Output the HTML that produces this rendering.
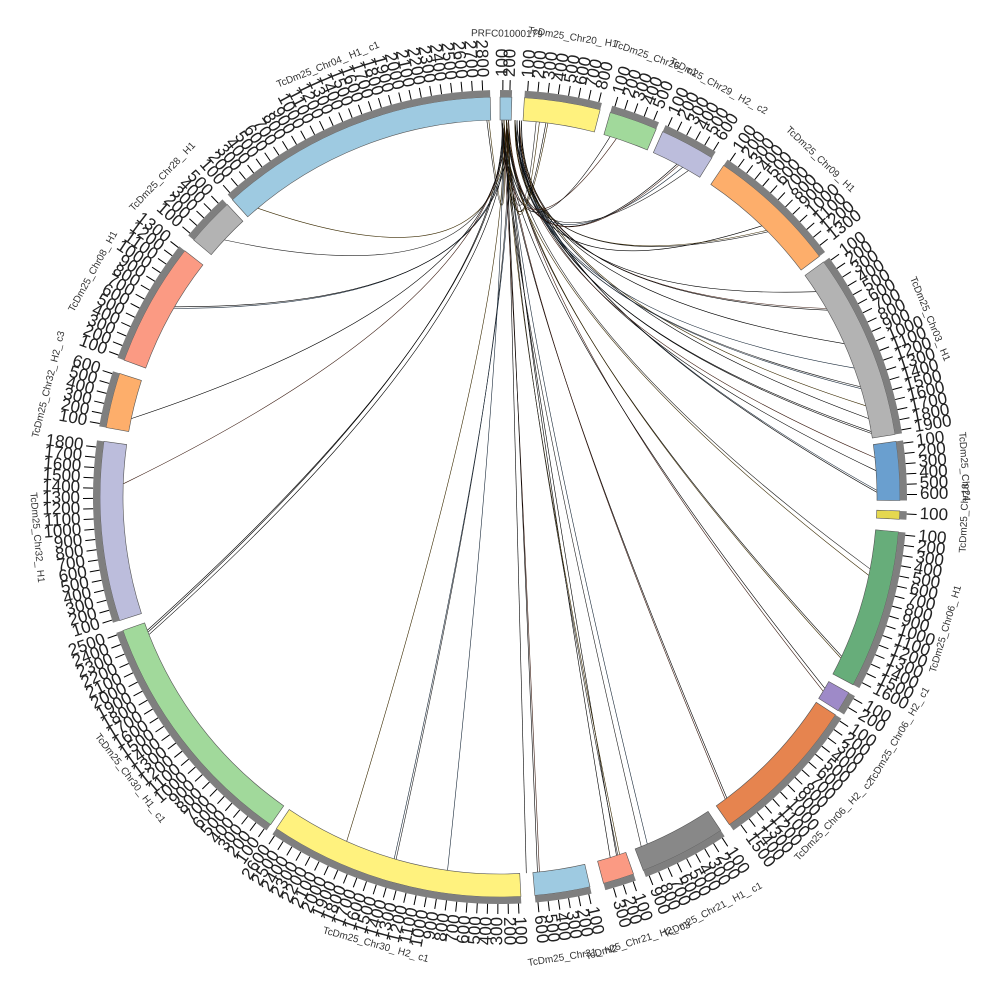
<!DOCTYPE html>
<html><head><meta charset="utf-8"><style>
html,body{margin:0;padding:0;background:#fff;width:1000px;height:1000px;overflow:hidden}
svg{display:block}
text{font-family:"Liberation Sans",sans-serif}
</style></head><body>
<svg id="s" width="1000" height="1000" viewBox="0 0 1000 1000" xmlns="http://www.w3.org/2000/svg"></svg>
<script>
const S=document.getElementById('s'),NS='http://www.w3.org/2000/svg';
const cx=500,cy=497,R0=377,R1=400;
function P(a,r){const t=a*Math.PI/180;return [cx+r*Math.sin(t),cy-r*Math.cos(t)];}
function el(n,at,txt){const e=document.createElementNS(NS,n);for(const k in at)e.setAttribute(k,at[k]);if(txt!==undefined)e.textContent=txt;S.appendChild(e);return e;}
function arc(a0,a1,r0,r1,fill,stroke){const p=P(a0,r1),q=P(a1,r1),u=P(a1,r0),v=P(a0,r0);const lg=(a1-a0)>180?1:0;
 el('path',{d:`M${p}A${r1},${r1} 0 ${lg} 1 ${q}L${u}A${r0},${r0} 0 ${lg} 0 ${v}Z`,fill:fill,stroke:stroke||'none','stroke-width':0.6});}
const segs=[
['PRFC01000179',0,1.7,'#9ecae1'],
['TcDm25_Chr20_H1',3.5,14.5,'#fff27e'],
['TcDm25_Chr26_c1',16,23,'#a1d99b'],
['TcDm25_Chr29_H2_c2',24,32,'#bcbddc'],
['TcDm25_Chr09_H1',34,53,'#fdae6b'],
['TcDm25_Chr03_H1',54,81,'#b3b3b3'],
['TcDm25_Chr24',82,90.5,'#6a9fcf'],
['TcDm25_Chr18',92,93.2,'#e5d84f'],
['TcDm25_Chr06_H1',95,118,'#67ad7a'],
['TcDm25_Chr06_H2_c1',119.3,122.3,'#9e8ac8'],
['TcDm25_Chr06_H2_c2',123,145,'#e6844f'],
['TcDm25_Chr21_H1_c1',146.5,159,'#888888'],
['TcDm25_Chr21_H2_c3',160.5,165,'#fb9a83'],
['TcDm25_Chr31_H2',167,175,'#9ecae1'],
['TcDm25_Chr30_H2_c1',177,214,'#fff27e'],
['TcDm25_Chr30_H1_c1',215,250.5,'#a1d99b'],
['TcDm25_Chr32_H1',252,278,'#bcbddc'],
['TcDm25_Chr32_H2_c3',280,288,'#fdae6b'],
['TcDm25_Chr08_H1',290,308,'#fb9a83'],
['TcDm25_Chr28_H1',310,317,'#b3b3b3'],
['TcDm25_Chr04_H1_c1',318,358.6,'#9ecae1']];
const tg=[358,320,313,300,282,272,249,248.6,204,196,188,176,174,163,162,161.5,158,157,143,121,120.5,115,102,101,89,86,84,80,78,76,73,70,66,60,57,44,45,30,29,28,18,17,7,6,5.5];
const cols=['#000','#3a2a00','#222','#1a2a3a','#000','#3a1a10','#000'];
tg.forEach((t,i)=>{for(let k=0;k<(i%3==0?2:1);k++){const sa=0.3+((i*7+k*3)%14)*0.1+(t<90&&t>40?2:0);
 const s=P(sa,R0),e=P(t+k*0.3,R0);const c=[508+(i%5)*3,290+(i%4)*6];
 el('path',{d:`M${s}Q${c} ${e}`,fill:'none',stroke:cols[(i+k)%cols.length],'stroke-width':0.6});}});
segs.forEach(([n,a0,a1,c],idx)=>{
 arc(a0,a1,R0,R1,c,'#555');
 arc(a0,a1,R1,R1+7,'#7f7f7f');
 const step=idx==0?1:1.45;let v=100;
 for(let a=a0+0.4;a<a1;a+=step){
  el('line',{x1:P(a,R1+7)[0],y1:P(a,R1+7)[1],x2:P(a,R1+17)[0],y2:P(a,R1+17)[1],stroke:'#000','stroke-width':1});
  const lp=P(a,R1+20);const rot=a<180?a-90:a+90;const anc=a<180?'start':'end';
  el('text',{x:lp[0],y:lp[1],'font-size':17,fill:'#222','text-anchor':anc,'dominant-baseline':'middle',transform:`rotate(${rot} ${lp[0]} ${lp[1]})`},String(v));
  v+=100;
 }
 const m=(a0+a1)/2,lp=P(m,R1+(idx==0?63:65));let rot=m;if(m>90&&m<270)rot=m+180;
 el('text',{x:lp[0],y:lp[1],'font-size':10,fill:'#333','text-anchor':'middle','dominant-baseline':'middle',transform:`rotate(${rot} ${lp[0]} ${lp[1]})`},n.replace(/_/g,'_ ').replace('_ ','_'));
});
</script>
</body></html>
